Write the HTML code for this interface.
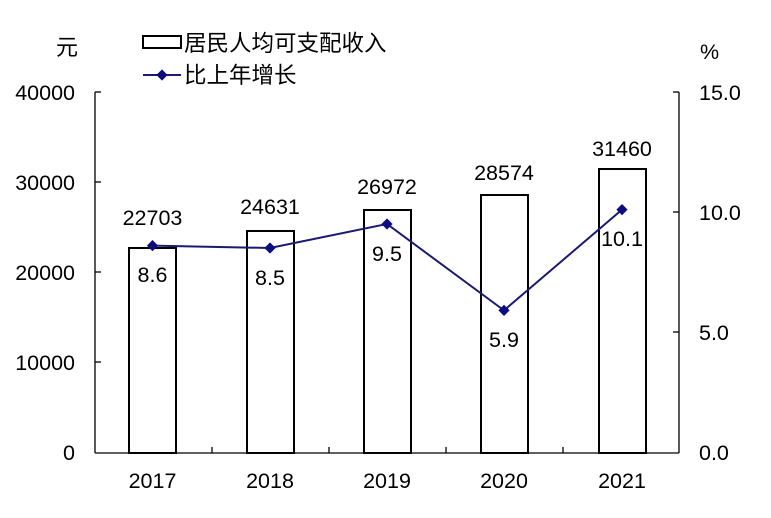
<!DOCTYPE html>
<html><head><meta charset="utf-8"><style>body{margin:0;background:#fff}svg{display:block}</style></head><body>
<svg width="771" height="518" xmlns="http://www.w3.org/2000/svg" font-family="Liberation Sans, Noto Sans CJK SC, sans-serif" font-size="21.5" fill="#000">
<rect width="771" height="518" fill="#fff"/>
<g stroke="#000" stroke-width="1.3" fill="none">
<line x1="95" y1="92" x2="95" y2="453"/>
<line x1="679" y1="92" x2="679" y2="453"/>
<line x1="95" y1="453" x2="679" y2="453"/>
<line x1="95" y1="92" x2="101" y2="92"/><line x1="95" y1="182" x2="101" y2="182"/><line x1="95" y1="272" x2="101" y2="272"/><line x1="95" y1="362" x2="101" y2="362"/>
<line x1="673" y1="92" x2="679" y2="92"/><line x1="673" y1="212" x2="679" y2="212"/><line x1="673" y1="332" x2="679" y2="332"/>
<line x1="212" y1="447" x2="212" y2="453"/><line x1="329" y1="447" x2="329" y2="453"/><line x1="446" y1="447" x2="446" y2="453"/><line x1="563" y1="447" x2="563" y2="453"/>
</g>
<g stroke="#000" stroke-width="2" fill="#fff">
<rect x="129" y="248" width="47" height="205"/>
<rect x="247" y="231" width="47" height="222"/>
<rect x="364" y="210" width="47" height="243"/>
<rect x="481" y="195" width="47" height="258"/>
<rect x="599" y="169" width="47" height="284"/>
</g>
<polyline points="152.5,245.6 270,248 387,224 504,310.4 622,209.6" fill="none" stroke="#1a1a70" stroke-width="2"/>
<g fill="#0d0d80">
<path d="M152.5,240l5.6,5.6l-5.6,5.6l-5.6,-5.6z"/><path d="M270,242.4l5.6,5.6l-5.6,5.6l-5.6,-5.6z"/><path d="M387,218.4l5.6,5.6l-5.6,5.6l-5.6,-5.6z"/><path d="M504,304.8l5.6,5.6l-5.6,5.6l-5.6,-5.6z"/><path d="M622,204l5.6,5.6l-5.6,5.6l-5.6,-5.6z"/>
</g>
<g text-anchor="end">
<text x="75" y="100">40000</text><text x="75" y="190">30000</text><text x="75" y="280">20000</text><text x="75" y="370">10000</text><text x="75" y="460">0</text>
</g>
<g text-anchor="start">
<text x="699" y="100">15.0</text><text x="699" y="220">10.0</text><text x="699" y="340">5.0</text><text x="699" y="460">0.0</text>
</g>
<g text-anchor="middle">
<text x="152.5" y="488">2017</text><text x="270" y="488">2018</text><text x="387" y="488">2019</text><text x="504" y="488">2020</text><text x="622" y="488">2021</text>
<text x="152.5" y="225">22703</text><text x="270" y="214">24631</text><text x="387" y="194">26972</text><text x="504" y="180">28574</text><text x="622" y="156">31460</text>
<text x="152.5" y="282">8.6</text><text x="270" y="285">8.5</text><text x="387" y="261">9.5</text><text x="504" y="347">5.9</text><text x="622" y="246">10.1</text>
</g>
<text x="56" y="55" font-size="22">元</text>
<text x="700" y="59">%</text>
<rect x="143" y="36" width="38" height="12" fill="#fff" stroke="#000" stroke-width="2"/>
<text x="184" y="51" font-size="22.5">居民人均可支配收入</text>
<line x1="143" y1="75" x2="181" y2="75" stroke="#1a1a70" stroke-width="2"/>
<path d="M162,69.4l5.6,5.6l-5.6,5.6l-5.6,-5.6z" fill="#0d0d80"/>
<text x="184" y="83" font-size="22.5">比上年增长</text>
</svg>
</body></html>
